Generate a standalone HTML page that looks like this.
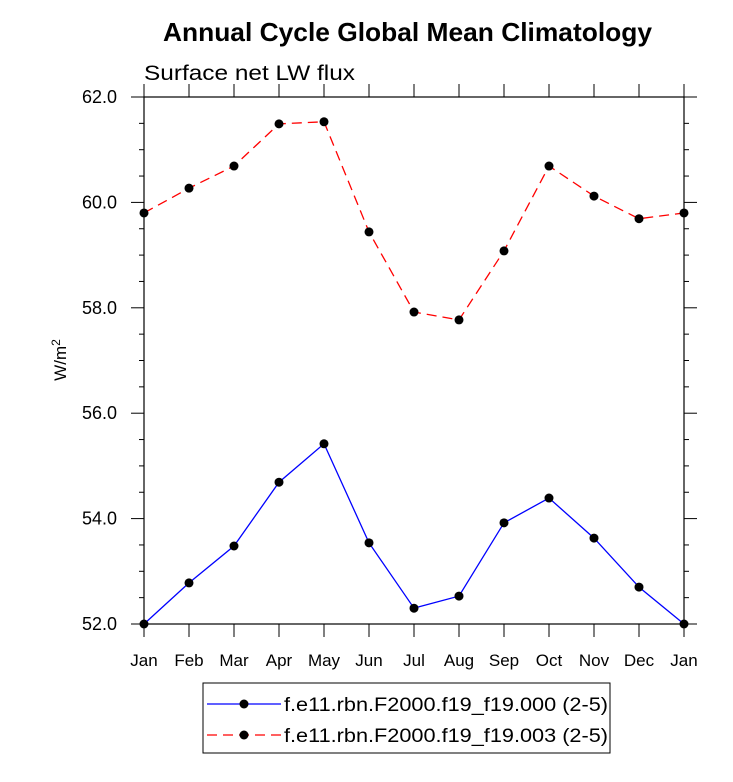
<!DOCTYPE html>
<html><head><meta charset="utf-8"><style>
body{margin:0;background:#fff;}
svg text{font-family:"Liberation Sans",Arial,sans-serif;}
</style></head><body>
<svg id="chart" width="733" height="777" viewBox="0 0 733 777" xmlns="http://www.w3.org/2000/svg">
<text x="163" y="41" font-size="26" font-weight="bold" textLength="489" lengthAdjust="spacingAndGlyphs">Annual Cycle Global Mean Climatology</text>
<text x="144" y="80" font-size="21" textLength="211" lengthAdjust="spacingAndGlyphs">Surface net LW flux</text>
<text transform="translate(66,360) rotate(-90)" text-anchor="middle" font-size="17">W/m<tspan dy="-6" font-size="12">2</tspan></text>
<g id="axes"></g>
<g id="series"></g>
<g>
<rect x="203" y="683" width="407" height="70" fill="none" stroke="#000" stroke-width="1"/>
<g>
<line x1="207" y1="704" x2="281" y2="704" stroke="#0000ff" stroke-width="1.2"/>
<circle cx="244" cy="704" r="4.5" fill="#000"/>
<text x="284" y="711" font-size="19" textLength="324" lengthAdjust="spacingAndGlyphs">f.e11.rbn.F2000.f19_f19.000 (2-5)</text>
</g>
<g>
<line x1="207" y1="735" x2="281" y2="735" stroke="#ff0000" stroke-width="1.2" stroke-dasharray="10,6"/>
<circle cx="244" cy="735" r="4.5" fill="#000"/>
<text x="284" y="742" font-size="19" textLength="324" lengthAdjust="spacingAndGlyphs">f.e11.rbn.F2000.f19_f19.003 (2-5)</text>
</g>
</g>
</svg>
<script>
const months=["Jan","Feb","Mar","Apr","May","Jun","Jul","Aug","Sep","Oct","Nov","Dec","Jan"];
const series000=[52.0,52.78,53.48,54.69,55.42,53.54,52.3,52.53,53.92,54.39,53.63,52.7,52.0];
const series003=[59.8,60.27,60.69,61.49,61.53,59.44,57.92,57.77,59.08,60.69,60.12,59.69,59.8];
const yTicks=[52,54,56,58,60,62];
const yTickLabels=["52.0","54.0","56.0","58.0","60.0","62.0"];
const L=144,R=684,T=97,B=624,ymin=52,ymax=62;
const ns="http://www.w3.org/2000/svg";
function xs(i){return L+(R-L)*i/(months.length-1);}
function ys(v){return B-(v-ymin)/(ymax-ymin)*(B-T);}
function mk(tag,attrs,parent){const e=document.createElementNS(ns,tag);for(const k in attrs)e.setAttribute(k,attrs[k]);parent.appendChild(e);return e;}
const ax=document.getElementById('axes');
const frame=mk('rect',{x:L,y:T,width:R-L,height:B-T,fill:'none',stroke:'#000','stroke-width':1.2},ax);


for(let v=ymin;v<=ymax+0.001;v+=0.5){
  const y=ys(v);const major=Math.abs(v-Math.round(v/2)*2)<0.001;const len=major?13:5;
  mk('line',{x1:L,y1:y,x2:L-len,y2:y,stroke:'#000'},ax);
  mk('line',{x1:R,y1:y,x2:R+len,y2:y,stroke:'#000'},ax);
}
yTicks.forEach((v,i)=>{
  const t=mk('text',{x:L-27,y:ys(v)+6,'text-anchor':'end','font-size':18},ax);
  t.textContent=yTickLabels[i];
  
  
});
months.forEach((m,i)=>{
  const x=xs(i);
  mk('line',{x1:x,y1:B,x2:x,y2:B+13,stroke:'#000'},ax);
  mk('line',{x1:x,y1:T,x2:x,y2:T-13,stroke:'#000'},ax);
  const t=mk('text',{x:x,y:666,'text-anchor':'middle','font-size':17},ax);
  t.textContent=m;
  
  
});
const sg=document.getElementById('series');
function draw(vals,color,dash,name){
  const g=mk('g',{},sg);
  
  
  const pts=vals.map((v,i)=>xs(i)+','+ys(v)).join(' ');
  const a={points:pts,fill:'none',stroke:color,'stroke-width':1.3};
  if(dash)a['stroke-dasharray']=dash;
  mk('polyline',a,g);
  vals.forEach((v,i)=>{
    const c=mk('circle',{cx:xs(i),cy:ys(v),r:4.5,fill:'#000'},g);
    
    
  });
}
draw(series000,'#0000ff',null,'series-000-line');
draw(series003,'#ff0000','10,6','series-003-line');
</script>
</body></html>
